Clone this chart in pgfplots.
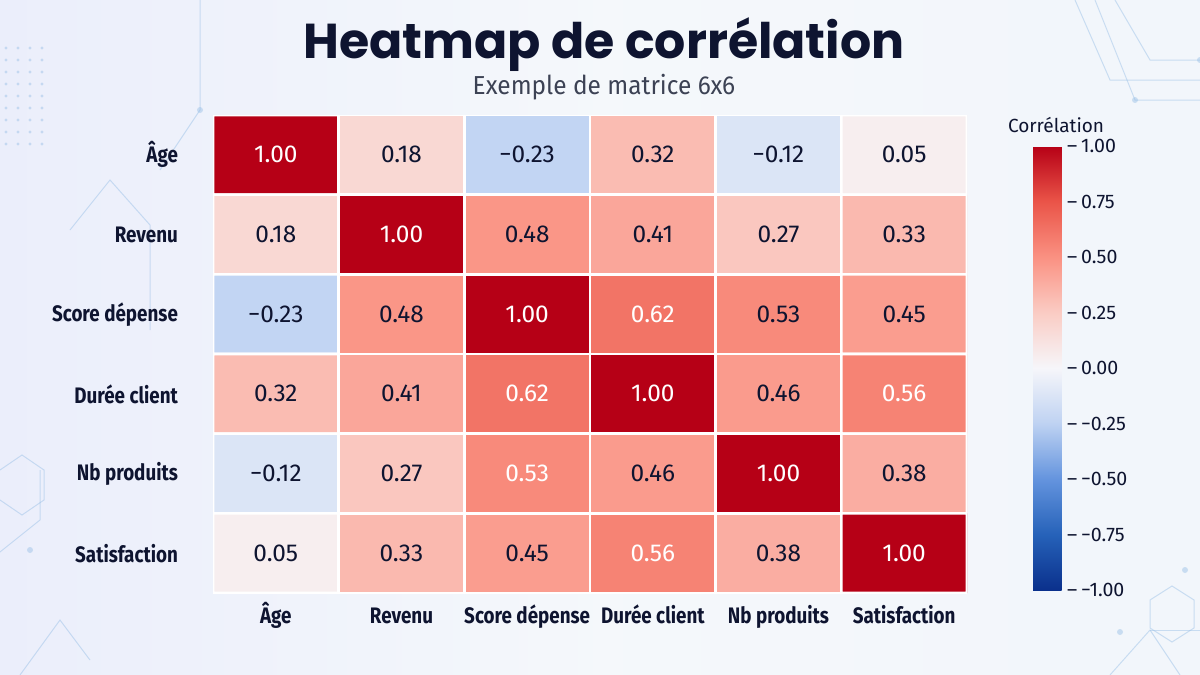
\documentclass[border=0pt]{standalone}
\usepackage{pgfplots}
\pgfplotsset{compat=1.18}
\usepackage{pgfplotstable}
\usepackage{fontspec}
\setmainfont{Fira Sans}
\newfontfamily\titlefont{Poppins}
\newfontfamily\labfont[FakeStretch=0.84]{Fira Sans}
\newfontfamily\numfont{Fira Sans}

\definecolor{bgc}{RGB}{242,246,251}
\definecolor{navy}{RGB}{14,20,48}
\definecolor{subc}{RGB}{60,66,84}
\definecolor{deco}{RGB}{150,190,230}

% correlation matrix, row by row (x = column, y = row)
\pgfplotstableread{
x y c w
0 0 1.00 1
1 0 0.18 0
2 0 -0.23 0
3 0 0.32 0
4 0 -0.12 0
5 0 0.05 0
0 1 0.18 0
1 1 1.00 1
2 1 0.48 0
3 1 0.41 0
4 1 0.27 0
5 1 0.33 0
0 2 -0.23 0
1 2 0.48 0
2 2 1.00 1
3 2 0.62 1
4 2 0.53 0
5 2 0.45 0
0 3 0.32 0
1 3 0.41 0
2 3 0.62 1
3 3 1.00 1
4 3 0.46 0
5 3 0.56 1
0 4 -0.12 0
1 4 0.27 0
2 4 0.53 1
3 4 0.46 0
4 4 1.00 1
5 4 0.38 0
0 5 0.05 0
1 5 0.33 0
2 5 0.45 0
3 5 0.56 1
4 5 0.38 0
5 5 1.00 1
}\corrtable

% prints a value with two decimals and a true minus sign
\newcommand\signednum[1]{%
  \pgfmathsetmacro\absv{abs(#1)}%
  \ifdim #1pt<0pt −\fi
  \pgfmathprintnumber[fixed,fixed zerofill,precision=2,assume math mode=true]{\absv}}

\begin{document}
\begin{tikzpicture}
\useasboundingbox (0,0) rectangle (600pt,-337.5pt);
\shade[left color=bgc!85!blue!60!white, right color=bgc, middle color=white!60!bgc] (0,0) rectangle (600pt,-337.5pt);
\fill[bgc,opacity=0.6] (0,0) rectangle (600pt,-337.5pt);

% faint background ornaments
\begin{scope}[x=0.5pt,y=-0.5pt,draw=deco,line width=0.5pt,opacity=0.45]
  \foreach \i in {0,...,3}{\foreach \j in {0,...,8}{
    \fill[deco] (6+12*\i,48+12*\j) circle (1.6);}}
  \draw (70,230) -- (110,180) -- (150,225) -- (150,330);
  \draw (200,0) -- (200,110) -- (160,170);
  \fill[deco] (200,110) circle (3);
  \draw (1075,0) -- (1110,80) -- (1200,80);
  \draw (1095,0) -- (1135,100) -- (1200,100);
  \draw (1115,0) -- (1150,60) -- (1200,60);
  \fill[deco] (1200,60) circle (3);
  \fill[deco] (1135,100) circle (3);
  \draw (0,470) -- (22,455) -- (44,470) -- (44,500) -- (22,515) -- (0,500);
  \draw (-10,560) -- (40,520) -- (40,470);
  \draw (20,675) -- (60,620) -- (90,660);
  \fill[deco] (30,550) circle (3);
  \draw (1110,675) -- (1150,630) -- (1180,675);
  \draw (1150,630) -- (1200,630);
  \draw (1150,600) -- (1172,586) -- (1194,600) -- (1194,628) -- (1172,642) -- (1150,628) -- cycle;
  \fill[deco] (1185,570) circle (3);
  \fill[deco] (1120,632) circle (3);
\end{scope}

\node[font=\titlefont\bfseries\fontsize{24.5}{28}\selectfont,text=navy,anchor=base,inner sep=0pt]
  at (302pt,-29pt) {Heatmap de corrélation};
\node[font=\fontsize{13}{15}\selectfont\addfontfeature{FakeStretch=0.94},text=subc,anchor=base,inner sep=0pt]
  at (302pt,-47.3pt) {Exemple de matrice 6x6};

\begin{axis}[
  at={(106.5pt,-57.5pt)}, anchor=north west,
  scale only axis, width=377pt, height=239pt,
  xmin=-0.5, xmax=5.5, ymin=-0.5, ymax=5.5,
  y dir=reverse,
  axis line style={draw=none},
  tick style={draw=none},
  xtick={0,...,5}, ytick={0,...,5},
  xticklabels={Âge,Revenu,Score dépense,Durée client,Nb produits,Satisfaction},
  yticklabels={Âge,Revenu,Score dépense,Durée client,Nb produits,Satisfaction},
  xticklabel style={font=\labfont\bfseries\fontsize{11.2}{13}\selectfont,text=navy,anchor=base,yshift=-15pt},
  yticklabel style={font=\labfont\bfseries\fontsize{11.2}{13}\selectfont,text=navy,anchor=east,xshift=-14pt},
  colormap={corr}{
    rgb255=(10,48,140)
    rgb255=(38,98,185)
    rgb255=(100,148,222)
    rgb255=(190,210,242)
    rgb255=(246,246,250)
    rgb255=(250,204,196)
    rgb255=(250,145,130)
    rgb255=(234,84,72)
    rgb255=(182,0,22)},
  point meta min=-1, point meta max=1,
  colorbar right,
  colorbar style={
    at={(parent axis.north east)}, anchor=north west,
    xshift=24.5pt, yshift=-15.5pt,
    scale only axis, width=17pt, height=222pt,
    ytick={-1,-0.75,...,1},
    yticklabel pos=right,
    axis line style={draw=none},
    tick style={draw=none},
    yticklabel={\makebox[7pt][l]{–}\signednum{\tick}},
    yticklabel style={font=\fontsize{9.8}{11}\selectfont,text=navy,anchor=west,xshift=-3.5pt},
    title={Corrélation},
    title style={font=\fontsize{9.5}{11}\selectfont,text=navy,yshift=-3pt,xshift=3pt},
  },
]
\addplot[
  matrix plot*, shader=faceted, faceted color=white, line width=1.3pt,
  mesh/cols=6, point meta=explicit,
  visualization depends on={\thisrow{c}\as\cval},
  visualization depends on={\thisrow{w}\as\wflag},
  nodes near coords={\ifdim\wflag pt>0.5pt \color{white}\fi\signednum{\cval}},
  every node near coord/.append style={font=\numfont\fontsize{12.2}{14}\selectfont,text=navy,anchor=center},
] table[x=x,y=y,meta=c] {\corrtable};
\end{axis}
\end{tikzpicture}
\end{document}
